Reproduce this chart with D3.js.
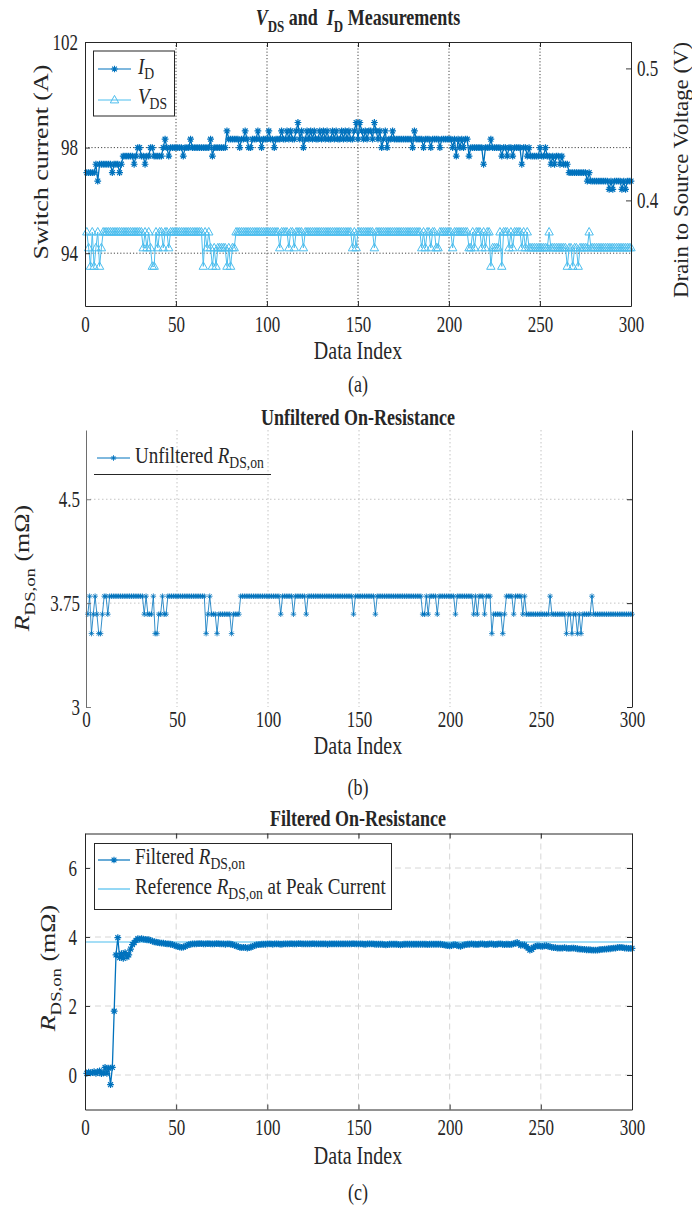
<!DOCTYPE html>
<html><head><meta charset="utf-8">
<script src="https://cdn.jsdelivr.net/npm/d3@7"></script>
<style>
body{margin:0;background:#fff}
svg{display:block}
text{font-family:"Liberation Serif","Times New Roman",serif;fill:#262626;white-space:pre}
</style>
</head><body>
<svg id="chart" width="692" height="1207"></svg>
<script>
// ---------------- DATA ----------------
const dataIndex = d3.range(1, 301);
const xTickValues = [0, 50, 100, 150, 200, 250, 300];
const currentTicks = [94, 98, 102];
const voltageTicks = [0.4, 0.5];
const unfilteredTicks = [3, 3.75, 4.5];
const filteredTicks = [0, 2, 4, 6];
const referenceRds = 3.855;

const drainCurrent = [
97.05,97.05,97.05,97.05,97.05,97.37,96.73,97.37,97.37,97.37,
97.37,97.37,97.37,97.37,97.05,97.37,97.37,97.37,97.05,97.37,
97.68,97.68,97.68,97.68,97.68,97.68,97.37,97.68,98.00,98.00,
97.68,97.68,97.37,97.68,97.68,98.00,98.00,97.68,97.68,97.68,
97.68,97.68,98.00,98.32,98.00,97.68,98.00,98.00,98.00,98.00,
98.00,98.00,98.00,97.68,98.00,98.00,98.00,98.32,98.00,98.00,
98.00,98.00,98.00,98.00,98.00,98.00,98.00,98.00,98.32,97.68,
98.00,98.00,98.00,98.00,98.00,98.00,98.00,98.63,98.32,98.32,
98.32,98.32,98.32,98.32,98.00,98.32,98.32,98.63,98.32,98.00,
98.00,98.32,98.32,98.32,98.63,98.32,98.00,98.32,98.32,98.32,
98.63,98.32,98.32,98.00,98.32,98.32,98.32,98.63,98.32,98.32,
98.63,98.32,98.63,98.32,98.32,98.63,98.95,98.32,98.63,98.00,
98.32,98.63,98.32,98.63,98.32,98.63,98.32,98.32,98.63,98.32,
98.63,98.32,98.63,98.32,98.32,98.63,98.32,98.63,98.32,98.32,
98.63,98.32,98.63,98.32,98.63,98.32,98.32,98.63,98.95,98.32,
98.95,98.63,98.32,98.63,98.32,98.63,98.63,98.32,98.95,98.63,
98.32,98.63,98.00,98.32,98.63,98.00,98.32,98.32,98.63,98.32,
98.32,98.32,98.32,98.32,98.32,98.32,98.32,98.32,98.32,98.00,
98.63,98.32,98.32,98.32,98.32,98.00,98.32,98.32,98.32,98.00,
98.32,98.32,98.32,98.32,98.00,98.32,98.32,98.32,98.32,98.32,
98.32,98.00,98.32,97.68,98.32,98.00,98.32,98.00,98.32,98.32,
97.68,98.00,98.00,98.00,98.00,98.00,98.00,98.00,97.37,98.00,
98.00,98.00,98.32,98.00,98.00,98.00,98.00,98.00,97.68,98.00,
98.00,97.68,98.00,98.00,97.68,98.00,98.00,98.00,98.00,97.37,
98.00,98.00,97.68,98.00,97.68,97.68,97.68,97.68,97.68,98.00,
97.68,97.68,98.00,97.68,97.68,97.37,97.68,97.37,97.68,97.68,
97.37,97.68,97.37,97.37,97.37,97.05,97.05,97.05,97.05,97.05,
97.05,97.05,97.05,97.05,97.05,96.73,97.05,96.73,96.73,96.73,
96.73,96.73,96.73,96.73,96.73,96.73,96.73,96.42,96.73,96.42,
96.73,96.73,96.73,96.73,96.42,96.73,96.42,96.73,96.73,96.73];

const drainSourceVoltage = [
0.376,0.364,0.350,0.376,0.350,0.364,0.376,0.350,0.364,0.376,
0.376,0.376,0.376,0.376,0.376,0.376,0.376,0.376,0.376,0.376,
0.376,0.376,0.376,0.376,0.376,0.376,0.376,0.376,0.376,0.376,
0.376,0.364,0.376,0.364,0.376,0.364,0.350,0.350,0.376,0.364,
0.376,0.376,0.364,0.376,0.376,0.364,0.376,0.376,0.376,0.376,
0.376,0.376,0.376,0.376,0.376,0.376,0.376,0.376,0.376,0.376,
0.376,0.376,0.376,0.376,0.350,0.376,0.364,0.376,0.364,0.350,
0.364,0.350,0.364,0.364,0.364,0.364,0.364,0.350,0.364,0.350,
0.364,0.364,0.376,0.376,0.376,0.376,0.376,0.376,0.376,0.376,
0.376,0.376,0.376,0.376,0.376,0.376,0.376,0.376,0.376,0.376,
0.376,0.376,0.376,0.376,0.376,0.376,0.364,0.376,0.376,0.376,
0.376,0.364,0.376,0.376,0.364,0.376,0.376,0.376,0.376,0.364,
0.376,0.376,0.376,0.376,0.376,0.376,0.376,0.376,0.376,0.376,
0.376,0.376,0.376,0.376,0.376,0.376,0.376,0.376,0.376,0.376,
0.376,0.376,0.376,0.376,0.376,0.376,0.364,0.376,0.364,0.376,
0.376,0.376,0.376,0.376,0.376,0.376,0.376,0.376,0.364,0.376,
0.376,0.376,0.376,0.376,0.376,0.376,0.376,0.376,0.376,0.376,
0.376,0.376,0.376,0.376,0.376,0.376,0.376,0.376,0.376,0.376,
0.376,0.376,0.376,0.376,0.364,0.376,0.364,0.376,0.376,0.364,
0.376,0.376,0.364,0.364,0.376,0.376,0.376,0.376,0.376,0.376,
0.376,0.364,0.376,0.376,0.376,0.376,0.376,0.376,0.376,0.376,
0.364,0.364,0.376,0.364,0.376,0.376,0.376,0.364,0.376,0.364,
0.376,0.376,0.350,0.364,0.364,0.364,0.364,0.376,0.350,0.376,
0.376,0.376,0.364,0.376,0.364,0.376,0.376,0.376,0.376,0.364,
0.376,0.364,0.376,0.364,0.364,0.364,0.364,0.364,0.364,0.364,
0.364,0.364,0.364,0.364,0.376,0.364,0.364,0.364,0.364,0.364,
0.364,0.364,0.364,0.364,0.350,0.364,0.364,0.350,0.364,0.364,
0.350,0.364,0.364,0.364,0.364,0.364,0.376,0.364,0.364,0.364,
0.364,0.364,0.364,0.364,0.364,0.364,0.364,0.364,0.364,0.364,
0.364,0.364,0.364,0.364,0.364,0.364,0.364,0.364,0.364,0.364];

const rdsUnfiltered = [
3.67,3.80,3.53,3.67,3.80,3.67,3.53,3.53,3.67,3.80,
3.80,3.67,3.80,3.80,3.80,3.80,3.80,3.80,3.80,3.80,
3.80,3.80,3.80,3.80,3.80,3.80,3.80,3.80,3.80,3.80,
3.80,3.67,3.80,3.67,3.67,3.67,3.80,3.53,3.53,3.67,
3.67,3.80,3.67,3.67,3.80,3.80,3.80,3.80,3.80,3.80,
3.80,3.80,3.80,3.80,3.80,3.80,3.80,3.80,3.80,3.80,
3.80,3.80,3.80,3.80,3.80,3.53,3.67,3.80,3.67,3.67,
3.67,3.53,3.67,3.67,3.67,3.67,3.67,3.67,3.67,3.53,
3.67,3.67,3.67,3.67,3.80,3.80,3.80,3.80,3.80,3.80,
3.80,3.80,3.80,3.80,3.80,3.80,3.80,3.80,3.80,3.80,
3.80,3.80,3.80,3.80,3.80,3.80,3.67,3.80,3.80,3.80,
3.80,3.80,3.80,3.67,3.80,3.80,3.80,3.80,3.80,3.80,
3.67,3.80,3.80,3.80,3.80,3.80,3.80,3.80,3.80,3.80,
3.80,3.80,3.80,3.80,3.80,3.80,3.80,3.80,3.80,3.80,
3.80,3.80,3.80,3.80,3.80,3.80,3.67,3.80,3.80,3.80,
3.80,3.80,3.80,3.80,3.80,3.80,3.80,3.80,3.67,3.80,
3.80,3.80,3.80,3.80,3.80,3.80,3.80,3.80,3.80,3.80,
3.80,3.80,3.80,3.80,3.80,3.80,3.80,3.80,3.80,3.80,
3.80,3.80,3.80,3.80,3.67,3.67,3.80,3.67,3.80,3.80,
3.80,3.80,3.67,3.80,3.80,3.80,3.80,3.80,3.80,3.80,
3.80,3.80,3.67,3.80,3.80,3.80,3.80,3.80,3.80,3.80,
3.80,3.80,3.67,3.80,3.67,3.80,3.80,3.80,3.67,3.80,
3.80,3.80,3.53,3.67,3.67,3.67,3.67,3.67,3.53,3.67,
3.80,3.80,3.80,3.80,3.67,3.80,3.80,3.80,3.80,3.67,
3.80,3.67,3.67,3.67,3.67,3.67,3.67,3.67,3.67,3.67,
3.67,3.67,3.67,3.67,3.80,3.67,3.67,3.67,3.67,3.67,
3.67,3.67,3.67,3.53,3.67,3.67,3.53,3.67,3.67,3.53,
3.67,3.53,3.67,3.67,3.67,3.67,3.67,3.80,3.67,3.67,
3.67,3.67,3.67,3.67,3.67,3.67,3.67,3.67,3.67,3.67,
3.67,3.67,3.67,3.67,3.67,3.67,3.67,3.67,3.67,3.67];

const rdsFiltered = [
0.05,0.08,0.06,0.07,0.10,0.05,0.08,0.12,0.04,0.06,
0.22,0.05,0.20,-0.28,0.22,1.85,3.48,3.98,3.40,3.52,
3.38,3.55,3.42,3.48,3.65,3.78,3.84,3.90,3.95,3.94,
3.95,3.94,3.93,3.92,3.92,3.90,3.88,3.86,3.85,3.84,
3.83,3.82,3.82,3.81,3.80,3.80,3.79,3.78,3.76,3.74,
3.72,3.71,3.70,3.71,3.73,3.76,3.78,3.79,3.80,3.80,
3.80,3.81,3.81,3.81,3.80,3.80,3.81,3.81,3.80,3.80,
3.80,3.81,3.81,3.80,3.80,3.80,3.79,3.80,3.80,3.79,
3.78,3.76,3.74,3.72,3.70,3.69,3.70,3.70,3.68,3.69,
3.71,3.73,3.75,3.77,3.78,3.78,3.79,3.79,3.79,3.80,
3.80,3.80,3.79,3.80,3.80,3.80,3.79,3.79,3.80,3.80,
3.80,3.80,3.81,3.80,3.80,3.80,3.81,3.81,3.80,3.80,
3.80,3.80,3.80,3.80,3.81,3.80,3.80,3.80,3.80,3.80,
3.80,3.80,3.79,3.80,3.80,3.80,3.80,3.80,3.80,3.80,
3.80,3.80,3.80,3.80,3.80,3.80,3.81,3.80,3.80,3.80,
3.80,3.80,3.79,3.79,3.80,3.80,3.80,3.80,3.79,3.79,
3.79,3.79,3.79,3.78,3.77,3.78,3.79,3.79,3.79,3.79,
3.79,3.78,3.77,3.78,3.79,3.79,3.79,3.79,3.79,3.79,
3.79,3.79,3.79,3.79,3.79,3.79,3.79,3.78,3.79,3.79,
3.79,3.79,3.79,3.79,3.79,3.78,3.77,3.76,3.75,3.74,
3.75,3.77,3.78,3.76,3.74,3.73,3.75,3.77,3.78,3.79,
3.79,3.80,3.79,3.79,3.78,3.79,3.80,3.80,3.79,3.78,
3.79,3.80,3.80,3.79,3.78,3.79,3.80,3.80,3.79,3.78,
3.79,3.79,3.78,3.79,3.80,3.82,3.84,3.80,3.76,3.77,
3.77,3.72,3.68,3.62,3.64,3.70,3.73,3.74,3.74,3.73,
3.73,3.74,3.75,3.73,3.72,3.70,3.69,3.69,3.68,3.68,
3.68,3.68,3.69,3.68,3.67,3.67,3.68,3.68,3.67,3.66,
3.65,3.65,3.64,3.64,3.63,3.63,3.63,3.62,3.62,3.62,
3.62,3.63,3.64,3.64,3.65,3.65,3.66,3.66,3.67,3.68,
3.68,3.69,3.70,3.70,3.69,3.68,3.68,3.67,3.67,3.67];

// ---------------- STYLE ----------------
const BLUE = "#0072BD", LIGHT = "#4DBEEE", INK = "#262626";
const K = 1.3;                // vertical stretch of glyphs
const TICK_FS = 17, LABEL_FS = 20, LEG_FS = 19, TITLE_FS = 18;

const svg = d3.select("#chart");

function rich(parent, x, y, parts, o) {
  const k = o.k || K;
  const tr = `translate(${x},${y})` + (o.rotate ? ` rotate(-90) scale(${k},1)` : ` scale(1,${k})`);
  const g = parent.append("g").attr("transform", tr);
  const t = g.append("text").attr("text-anchor", o.anchor || "start")
    .attr("font-size", o.size).attr("font-weight", o.bold ? "bold" : null);
  let shift = 0;
  parts.forEach(p => {
    const ts = t.append("tspan").text(p.t);
    if (p.it) ts.attr("font-style", "italic");
    const target = p.sub ? o.size * (o.subShift || 0.28) : 0;
    if (target !== shift) { ts.attr("dy", target - shift); shift = target; }
    if (p.sub) ts.attr("font-size", o.size * 0.72);
  });
  return t;
}

const asterisk = s => { const d = s * 0.72;
  return `M${-s},0L${s},0M0,${-s}L0,${s}M${-d},${-d}L${d},${d}M${-d},${d}L${d},${-d}`; };
const triangle = `M0,-4.6L4.2,2.9L-4.2,2.9Z`;

function drawSeries(g, xs, ys, vals, o) {
  const line = d3.line().x((d, i) => xs(dataIndex[i])).y(d => ys(d));
  g.append("path").datum(vals).attr("d", line).attr("fill", "none")
    .attr("stroke", o.color).attr("stroke-width", o.lw).attr("stroke-linejoin", "round");
  g.append("g").selectAll("path").data(vals).join("path")
    .attr("transform", (d, i) => `translate(${xs(dataIndex[i])},${ys(d)})`)
    .attr("d", o.marker).attr("fill", "none").attr("stroke", o.color).attr("stroke-width", o.mw);
}

function styleAxis(g, side, pad, off, color) {
  g.attr("color", color || INK).attr("font-family", null);
  g.select(".domain").attr("stroke-width", 1);
  g.selectAll(".tick line").attr("stroke-width", 0.9);
  const t = g.selectAll("text").attr("font-size", TICK_FS).attr("fill", INK).attr("dy", null);
  if (side === "bottom") t.attr("y", null).attr("transform", `translate(0,${off}) scale(1,${K})`);
  if (side === "left") t.attr("x", null).attr("transform", `translate(${-pad},${off}) scale(1,${K})`);
  if (side === "right") t.attr("x", null).attr("transform", `translate(${pad},${off}) scale(1,${K})`);
}

const LEG = {size: LEG_FS, k: 1.2, subShift: 0.24};

// ================= PANEL (a) =================
{
  const L = 85, R = 631, T = 42, B = 306;
  const x = d3.scaleLinear().domain([0, 300]).range([L, R]);
  const yI = d3.scaleLinear().domain([92, 102]).range([B, T]);
  const yV = d3.scaleLinear().domain([0.32, 0.52]).range([B, T]);
  const g = svg.append("g");

  g.append("g").selectAll("line").data([50, 100, 150, 200, 250]).join("line")
    .attr("x1", d => x(d)).attr("x2", d => x(d)).attr("y1", T).attr("y2", B)
    .attr("stroke", "#333").attr("stroke-width", 0.9).attr("stroke-dasharray", "1.2,2");
  g.append("g").selectAll("line").data([94, 98]).join("line")
    .attr("x1", L).attr("x2", R).attr("y1", d => yI(d)).attr("y2", d => yI(d))
    .attr("stroke", "#333").attr("stroke-width", 0.9).attr("stroke-dasharray", "1.2,2");

  drawSeries(g, x, yV, drainSourceVoltage, {color: LIGHT, lw: 1, marker: triangle, mw: 1});
  drawSeries(g, x, yI, drainCurrent, {color: BLUE, lw: 1.3, marker: asterisk(3.4), mw: 1.2});

  const ax1 = g.append("g").attr("transform", `translate(0,${B})`)
    .call(d3.axisBottom(x).tickValues(xTickValues).tickSizeInner(-5).tickSizeOuter(0));
  styleAxis(ax1, "bottom", 0, 26);
  g.append("g").attr("transform", `translate(0,${T})`)
    .call(d3.axisTop(x).tickValues(xTickValues).tickSizeInner(-5).tickSizeOuter(0).tickFormat(""))
    .attr("color", INK);
  const ax2 = g.append("g").attr("transform", `translate(${L},0)`)
    .call(d3.axisLeft(yI).tickValues(currentTicks).tickSizeInner(-5).tickSizeOuter(0));
  styleAxis(ax2, "left", 7, 7);
  const ax3 = g.append("g").attr("transform", `translate(${R},0)`)
    .call(d3.axisRight(yV).tickValues(voltageTicks).tickSizeInner(-5).tickSizeOuter(0).tickFormat(d3.format(".1f")));
  styleAxis(ax3, "right", 6, 7);

  rich(svg, 358, 25, [{t:"V",it:true},{t:"DS",sub:true},{t:" and  "},{t:"I",it:true},{t:"D",sub:true},{t:" Measurements"}],
    {size: TITLE_FS, anchor: "middle", bold: true});
  rich(svg, 48, 162, [{t:"Switch current (A)"}], {size: LABEL_FS, anchor: "middle", rotate: true});
  rich(svg, 688, 170, [{t:"Drain to Source Voltage (V)"}], {size: LABEL_FS, anchor: "middle", rotate: true, k: 1.14});
  rich(svg, 358, 359, [{t:"Data Index"}], {size: LABEL_FS, anchor: "middle"});
  rich(svg, 358, 392, [{t:"(a)"}], {size: TITLE_FS, anchor: "middle"});

  const lg = svg.append("g");
  lg.append("rect").attr("x", 93.5).attr("y", 51).attr("width", 81).attr("height", 65)
    .attr("fill", "#fff").attr("stroke", INK).attr("stroke-width", 1);
  lg.append("line").attr("x1", 98).attr("x2", 131).attr("y1", 69).attr("y2", 69).attr("stroke", BLUE).attr("stroke-width", 1.2);
  lg.append("path").attr("d", asterisk(3.3)).attr("transform", "translate(114.5,69)").attr("fill", "none").attr("stroke", BLUE).attr("stroke-width", 1.1);
  lg.append("line").attr("x1", 98).attr("x2", 131).attr("y1", 100).attr("y2", 100).attr("stroke", LIGHT).attr("stroke-width", 1);
  lg.append("path").attr("d", triangle).attr("transform", "translate(114.5,100)").attr("fill", "none").attr("stroke", LIGHT).attr("stroke-width", 1);
  rich(lg, 138, 74, [{t:"I",it:true},{t:"D",sub:true}], LEG);
  rich(lg, 138, 104, [{t:"V",it:true},{t:"DS",sub:true}], LEG);
}

// ================= PANEL (b) =================
{
  const L = 86, R = 632, T = 430, B = 707;
  const x = d3.scaleLinear().domain([0, 300]).range([L, R]);
  const y = d3.scaleLinear().domain([3, 5]).range([B, T]);
  const g = svg.append("g");

  g.append("g").selectAll("line").data([50, 100, 150, 200, 250]).join("line")
    .attr("x1", d => x(d)).attr("x2", d => x(d)).attr("y1", T).attr("y2", B)
    .attr("stroke", "#c4c4c4").attr("stroke-width", 1).attr("stroke-dasharray", "1.5,2.5");
  g.append("g").selectAll("line").data([3.75, 4.5]).join("line")
    .attr("x1", L).attr("x2", R).attr("y1", d => y(d)).attr("y2", d => y(d))
    .attr("stroke", "#c4c4c4").attr("stroke-width", 1).attr("stroke-dasharray", "1.5,2.5");

  drawSeries(g, x, y, rdsUnfiltered, {color: BLUE, lw: 0.8, marker: asterisk(2.8), mw: 0.8});

  const ax1 = g.append("g").attr("transform", `translate(0,${B})`)
    .call(d3.axisBottom(x).tickValues(xTickValues).tickSize(0));
  ax1.select(".domain").remove();
  styleAxis(ax1, "bottom", 0, 20);
  const ax2 = g.append("g").attr("transform", `translate(${L},0)`)
    .call(d3.axisLeft(y).tickValues(unfilteredTicks).tickSizeInner(-5).tickSizeOuter(0).tickFormat(d => d));
  styleAxis(ax2, "left", 6, 7, "#6e6e6e");
  g.append("g").attr("transform", `translate(${R},0)`)
    .call(d3.axisRight(y).tickValues(unfilteredTicks).tickSizeInner(-5).tickSizeOuter(0).tickFormat(""))
    .attr("color", INK);

  rich(svg, 358, 425, [{t:"Unfiltered On-Resistance"}], {size: TITLE_FS, anchor: "middle", bold: true});
  rich(svg, 29, 568, [{t:"R",it:true},{t:"DS,on",sub:true},{t:" (m\u03A9)"}], {size: LABEL_FS, anchor: "middle", rotate: true});
  rich(svg, 358, 754, [{t:"Data Index"}], {size: LABEL_FS, anchor: "middle"});
  rich(svg, 358, 795, [{t:"(b)"}], {size: TITLE_FS, anchor: "middle"});

  const lg = svg.append("g");
  lg.append("line").attr("x1", 97).attr("x2", 130).attr("y1", 458).attr("y2", 458).attr("stroke", BLUE).attr("stroke-width", 1);
  lg.append("path").attr("d", asterisk(2.8)).attr("transform", "translate(113.5,458)").attr("fill", "none").attr("stroke", BLUE).attr("stroke-width", 0.9);
  rich(lg, 135, 463, [{t:"Unfiltered "},{t:"R",it:true},{t:"DS,on",sub:true}], LEG);
  lg.append("line").attr("x1", 94).attr("x2", 271).attr("y1", 474.5).attr("y2", 474.5).attr("stroke", INK).attr("stroke-width", 1);
}

// ================= PANEL (c) =================
{
  const L = 85, R = 632, T = 833.5, B = 1109.5;
  const x = d3.scaleLinear().domain([0, 300]).range([L, R]);
  const y = d3.scaleLinear().domain([-1, 7]).range([B, T]);
  const g = svg.append("g");

  g.append("g").selectAll("line").data([50, 100, 150, 200, 250]).join("line")
    .attr("x1", d => x(d)).attr("x2", d => x(d)).attr("y1", T).attr("y2", B)
    .attr("stroke", "#d6d6d6").attr("stroke-width", 1).attr("stroke-dasharray", "6,4");
  g.append("g").selectAll("line").data(filteredTicks).join("line")
    .attr("x1", L).attr("x2", R).attr("y1", d => y(d)).attr("y2", d => y(d))
    .attr("stroke", "#d6d6d6").attr("stroke-width", 1).attr("stroke-dasharray", "6,4");

  g.append("line").attr("x1", x(0)).attr("x2", x(300)).attr("y1", y(referenceRds)).attr("y2", y(referenceRds))
    .attr("stroke", LIGHT).attr("stroke-width", 1.2);
  drawSeries(g, x, y, rdsFiltered, {color: BLUE, lw: 1.3, marker: asterisk(3.4), mw: 1.2});

  const ax1 = g.append("g").attr("transform", `translate(0,${B})`)
    .call(d3.axisBottom(x).tickValues(xTickValues).tickSizeInner(-5).tickSizeOuter(0));
  styleAxis(ax1, "bottom", 0, 25);
  g.append("g").attr("transform", `translate(0,${T})`)
    .call(d3.axisTop(x).tickValues(xTickValues).tickSizeInner(-5).tickSizeOuter(0).tickFormat(""))
    .attr("color", INK);
  const ax2 = g.append("g").attr("transform", `translate(${L},0)`)
    .call(d3.axisLeft(y).tickValues(filteredTicks).tickSizeInner(-5).tickSizeOuter(0));
  styleAxis(ax2, "left", 8, 7);
  g.append("g").attr("transform", `translate(${R},0)`)
    .call(d3.axisRight(y).tickValues(filteredTicks).tickSizeInner(-5).tickSizeOuter(0).tickFormat(""))
    .attr("color", INK);

  rich(svg, 358, 826, [{t:"Filtered On-Resistance"}], {size: TITLE_FS, anchor: "middle", bold: true});
  rich(svg, 55, 968, [{t:"R",it:true},{t:"DS,on",sub:true},{t:" (m\u03A9)"}], {size: LABEL_FS, anchor: "middle", rotate: true});
  rich(svg, 358, 1164, [{t:"Data Index"}], {size: LABEL_FS, anchor: "middle"});
  rich(svg, 358, 1200, [{t:"(c)"}], {size: TITLE_FS, anchor: "middle"});

  const lg = svg.append("g");
  lg.append("rect").attr("x", 94.5).attr("y", 843.5).attr("width", 297).attr("height", 66)
    .attr("fill", "#fff").attr("stroke", INK).attr("stroke-width", 1);
  lg.append("line").attr("x1", 98).attr("x2", 130).attr("y1", 860).attr("y2", 860).attr("stroke", BLUE).attr("stroke-width", 1.2);
  lg.append("path").attr("d", asterisk(3.3)).attr("transform", "translate(114,860)").attr("fill", "none").attr("stroke", BLUE).attr("stroke-width", 1.1);
  lg.append("line").attr("x1", 98).attr("x2", 130).attr("y1", 889).attr("y2", 889).attr("stroke", LIGHT).attr("stroke-width", 1.2);
  rich(lg, 135, 864, [{t:"Filtered "},{t:"R",it:true},{t:"DS,on",sub:true}], LEG);
  rich(lg, 135, 894, [{t:"Reference "},{t:"R",it:true},{t:"DS,on",sub:true},{t:" at Peak Current"}], LEG);
}
</script>
</body></html>
